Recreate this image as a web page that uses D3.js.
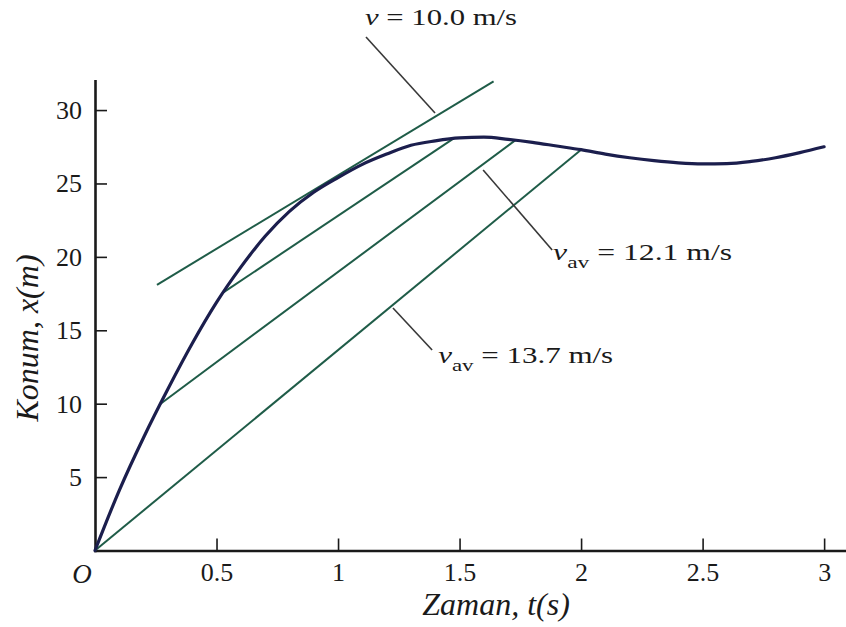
<!DOCTYPE html>
<html><head><meta charset="utf-8">
<script src="https://cdn.jsdelivr.net/npm/d3@7"></script>
<style>body{margin:0;background:#fff}</style>
</head><body>
<svg id="c" width="846" height="627"></svg>
<script>
// Position-time curve
const tValues   = [0,0.1,0.2,0.3,0.4,0.5,0.6,0.7,0.8,0.9,1.0,1.1,1.2,1.3,1.4,1.5,1.6,1.7,1.8,1.9,2.0,2.1,2.2,2.3,2.4,2.5,2.6,2.7,2.8,2.9,3.0];
const positions = [0,4.1,7.7,11.0,14.1,16.9,19.3,21.4,23.1,24.4,25.4,26.3,27.0,27.6,27.9,28.1,28.15,28.0,27.8,27.55,27.3,27.0,26.75,26.55,26.4,26.33,26.35,26.5,26.75,27.1,27.5];
// Chords (average velocity) and tangent (instantaneous velocity)
const chordT0 = [0, 0.27, 0.53];
const chordX0 = [0, 10.0, 17.6];
const chordT1 = [2.0, 1.73, 1.47];
const chordX1 = [27.3, 27.95, 28.0];
const tangentT = [0.255, 1.64];
const tangentX = [18.1, 31.95];
// Ticks
const xTicks = [0.5,1,1.5,2,2.5,3];
const xTickLabels = ["0.5","1","1.5","2","2.5","3"];
const yTicks = [5,10,15,20,25,30];
// Annotations
const annValues = ["10.0","12.1","13.7"];
const annSub    = ["","av","av"];
const annT      = [1.111, 1.885, 1.412];
const annX      = [35.8, 19.8, 12.8];
const ptrT0 = [1.115, 1.597, 1.226];
const ptrX0 = [34.98, 25.92, 16.52];
const ptrT1 = [1.399, 1.881, 1.387];
const ptrX1 = [29.8, 20.47, 13.66];

const svg = d3.select("#c");
const x = d3.scaleLinear().domain([0,3.09]).range([95,846]);
const y = d3.scaleLinear().domain([0,32]).range([550.5,80.7]);

const serif = "'Liberation Serif','Times New Roman',serif";
const green = "#1f5c48", navy = "#1b1e4d", ink = "#1a1a1a";

// Axes
const xa = svg.append("g").attr("transform",`translate(0,${y(0)})`)
  .call(d3.axisBottom(x).tickValues(xTicks).tickFormat((d,i)=>xTickLabels[i])
    .tickSizeInner(-12).tickSizeOuter(0).tickPadding(12));
const ya = svg.append("g").attr("transform",`translate(${x(0)},0)`)
  .call(d3.axisLeft(y).tickValues(yTicks).tickSizeInner(-12).tickSizeOuter(0).tickPadding(13));
[xa,ya].forEach(a=>{
  a.attr("font-family",serif).attr("font-size",26);
  a.select(".domain").attr("stroke",ink).attr("stroke-width",2.6).attr("stroke-linecap","square");
  a.selectAll(".tick line").attr("stroke",ink).attr("stroke-width",1.6);
  a.selectAll(".tick text").attr("fill",ink);
});

// Lines
const lines = [];
chordT0.forEach((t,i)=>lines.push([[t,chordX0[i]],[chordT1[i],chordX1[i]]]));
lines.push([[tangentT[0],tangentX[0]],[tangentT[1],tangentX[1]]]);
svg.append("g").selectAll("line").data(lines).join("line")
  .attr("x1",d=>x(d[0][0])).attr("y1",d=>y(d[0][1]))
  .attr("x2",d=>x(d[1][0])).attr("y2",d=>y(d[1][1]))
  .attr("stroke",green).attr("stroke-width",2);

// Curve
const curveData = tValues.map((t,i)=>[t,positions[i]]);
svg.append("path").datum(curveData)
  .attr("d",d3.line().x(d=>x(d[0])).y(d=>y(d[1])).curve(d3.curveMonotoneX))
  .attr("fill","none").attr("stroke",navy).attr("stroke-width",3.2).attr("stroke-linecap","round");

// Pointers
svg.append("g").selectAll("line").data(ptrT0).join("line")
  .attr("x1",(d,i)=>x(d)).attr("y1",(d,i)=>y(ptrX0[i]))
  .attr("x2",(d,i)=>x(ptrT1[i])).attr("y2",(d,i)=>y(ptrX1[i]))
  .attr("stroke","#383838").attr("stroke-width",1.6);

// Annotation texts
const annWidths = [152,179,175];
annValues.forEach((v,i)=>{
  const t = svg.append("text").attr("x",x(annT[i])).attr("y",y(annX[i]))
    .attr("font-family",serif).attr("font-size",23).attr("fill",ink);
  t.append("tspan").attr("font-style","italic").text("v");
  if(annSub[i]){
    t.append("tspan").attr("font-size",17).attr("dy",8).text(annSub[i]);
    t.append("tspan").attr("dy",-8).text(" = "+v+" m/s");
  } else {
    t.append("tspan").text(" = "+v+" m/s");
  }
  t.attr("textLength",annWidths[i]).attr("lengthAdjust","spacingAndGlyphs");
});

// Axis titles
svg.append("text").attr("x",x(0)-13).attr("y",583).attr("text-anchor","middle")
  .attr("font-family",serif).attr("font-style","italic").attr("font-size",27).attr("fill",ink).text("O");
svg.append("text").attr("x",496).attr("y",615).attr("text-anchor","middle")
  .attr("font-family",serif).attr("font-style","italic").attr("font-size",32).attr("fill",ink).text("Zaman, t(s)");
svg.append("text").attr("transform","translate(38,338) rotate(-90)").attr("text-anchor","middle")
  .attr("font-family",serif).attr("font-style","italic").attr("font-size",32).attr("fill",ink).text("Konum, x(m)");
</script>
</body></html>
